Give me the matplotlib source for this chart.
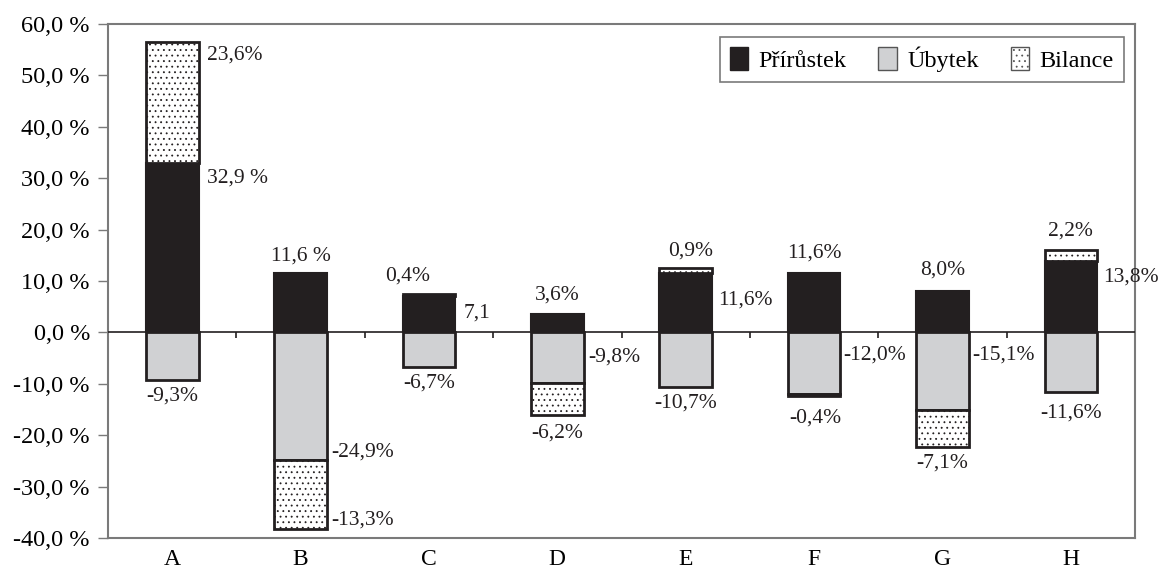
import numpy as np
import matplotlib
matplotlib.use("Agg")
import matplotlib.pyplot as plt
from matplotlib.patches import Patch

plt.rcParams["font.family"] = ["Liberation Serif", "DejaVu Serif"]
plt.rcParams["hatch.linewidth"] = 0.6

# kategorie a hodnoty (v %)
categories = ["A", "B", "C", "D", "E", "F", "G", "H"]
prirustek = [32.9, 11.6, 7.1, 3.6, 11.6, 11.6, 8.0, 13.8]
ubytek = [-9.3, -24.9, -6.7, -9.8, -10.7, -12.0, -15.1, -11.6]
bilance = [23.6, -13.3, 0.4, -6.2, 0.9, -0.4, -7.1, 2.2]

yticks = [-40, -30, -20, -10, 0, 10, 20, 30, 40, 50, 60]

BLACK = "#231f20"
GREY = "#d0d1d3"
FRAME = "#7a7a7a"


def fmt(v, suffix="%"):
    return f"{v:.1f}".replace(".", ",") + suffix


# popisky: (pripona, x posun, y pozice, zarovnani)
prir_labels = [
    (" %", 0.27, 30.0, "left"),
    (" %", 0.0, 14.8, "center"),
    ("", 0.27, 3.7, "left"),
    ("%", 0.0, 7.2, "center"),
    ("%", 0.25, 6.2, "left"),
    ("%", 0.0, 15.4, "center"),
    ("%", 0.0, 12.1, "center"),
    ("%", 0.25, 10.7, "left"),
]
ub_labels = [
    (0.0, -12.4, "center"),
    (0.24, -23.3, "left"),
    (0.0, -9.9, "center"),
    (0.24, -4.7, "left"),
    (0.0, -13.8, "center"),
    (0.23, -4.5, "left"),
    (0.23, -4.5, "left"),
    (0.0, -15.6, "center"),
]
bil_labels = [
    (0.27, 53.9, "left"),
    (0.24, -36.6, "left"),
    (-0.17, 10.9, "center"),
    (0.0, -19.5, "center"),
    (0.04, 15.8, "center"),
    (0.01, -16.7, "center"),
    (0.0, -25.5, "center"),
    (0.0, 19.8, "center"),
]

x = np.arange(len(categories))
width = 0.41
prir = np.array(prirustek)
ub = np.array(ubytek)
bil = np.array(bilance)
bil_base = np.where(bil >= 0, prir, ub)

fig = plt.figure(figsize=(11.59, 5.69), dpi=100)
ax = fig.add_axes([0.0932, 0.0545, 0.8861, 0.9033])

ax.bar(x, prir, width, color=BLACK, edgecolor=BLACK, linewidth=1.5, zorder=3)
ax.bar(x, ub, width, color=GREY, edgecolor=BLACK, linewidth=2, zorder=3)
ax.bar(x, bil, width, bottom=bil_base, color="white", edgecolor=BLACK,
       linewidth=2, hatch="...", zorder=3)

fs = 15.5
for i in range(len(categories)):
    suf, dx, y, ha = prir_labels[i]
    ax.text(x[i] + dx, y, fmt(prir[i], suf), ha=ha, va="center", fontsize=fs, color=BLACK)
    dx, y, ha = ub_labels[i]
    ax.text(x[i] + dx, y, fmt(ub[i]), ha=ha, va="center", fontsize=fs, color=BLACK)
    dx, y, ha = bil_labels[i]
    ax.text(x[i] + dx, y, fmt(bil[i]), ha=ha, va="center", fontsize=fs, color=BLACK)

# nulova osa s carkami mezi kategoriemi
ax.axhline(0, color=BLACK, linewidth=1.2, zorder=4)
bounds = np.arange(len(categories) - 1) + 0.5
ax.vlines(bounds, -1.0, 0, color=BLACK, linewidth=1.2, zorder=4)

ax.set_xlim(-0.5, len(categories) - 0.5)
ax.set_ylim(-40, 60)
ax.set_yticks(yticks)
ax.set_yticklabels([fmt(t, " %") for t in yticks], fontsize=17.5)
ax.set_xticks(x)
ax.set_xticklabels(categories, fontsize=17)
ax.tick_params(axis="x", length=0, pad=8)
ax.tick_params(axis="y", length=7, width=1, color=FRAME, pad=6)
for side in ["left", "right", "top", "bottom"]:
    ax.spines[side].set_color(FRAME)
    ax.spines[side].set_linewidth(1.5)

handles = [
    Patch(facecolor=BLACK, edgecolor=BLACK, label="Přírůstek"),
    Patch(facecolor=GREY, edgecolor="#555555", label="Úbytek"),
    Patch(facecolor="white", edgecolor="#555555", hatch="...", label="Bilance"),
]
leg = ax.legend(handles=handles, loc="upper right", ncol=3, fontsize=17.5,
                bbox_to_anchor=(0.989, 0.975), borderaxespad=0,
                fancybox=False, framealpha=1, edgecolor=FRAME,
                handlelength=0.75, handleheight=1.1, handletextpad=0.45,
                columnspacing=1.3, borderpad=0.4)
leg.get_frame().set_linewidth(1.2)

fig.savefig("out.png", dpi=100, facecolor="white")
